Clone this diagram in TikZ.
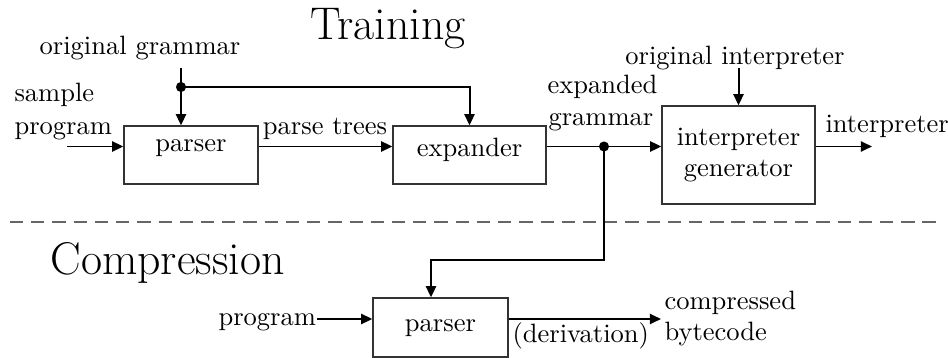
\documentclass[tikz,border=0pt]{standalone}
\usetikzlibrary{arrows.meta}
\begin{document}
\begin{tikzpicture}[x=0.377pt,y=-0.377pt,
  boxnode/.style={draw=black!80,line width=0.5pt,inner sep=0pt,rectangle},
  txt/.style={inner sep=0pt,anchor=base,font=\normalsize},
  txtl/.style={inner sep=0pt,anchor=base west,font=\normalsize},
  title/.style={inner sep=0pt,anchor=base west,font=\LARGE},
  arr/.style={line width=0.75pt,-{Triangle[length=4.2pt,width=3.8pt]}},
  wire/.style={line width=0.75pt},
  junction/.style={circle,fill=black,inner sep=0pt,minimum size=3.8pt},
  sep/.style={black!60,line width=0.5pt,dash pattern=on 5pt off 3pt}]
\useasboundingbox (0,0) rectangle (948,358);
% titles
\node[title] (ttrain) at (310,40) {Training};
\node[title] (tcomp) at (50,274) {Compression};
% boxes
\node[boxnode,minimum width=134*0.377pt,minimum height=58*0.377pt] (parser1) at (191,155) {};
\node[boxnode,minimum width=153*0.377pt,minimum height=58*0.377pt] (expander) at (469.5,155) {};
\node[boxnode,minimum width=153*0.377pt,minimum height=98*0.377pt] (igen) at (738.5,155) {};
\node[boxnode,minimum width=135*0.377pt,minimum height=59*0.377pt] (parser2) at (440.5,327.5) {};
% box texts
\node[txt] (parser1t) at (191,152) {parser};
\node[txt] (expandert) at (469.5,157) {expander};
\node[txt] (igent1) at (738.5,146) {interpreter};
\node[txt] (igent2) at (738.5,177) {generator};
\node[txt] (parser2t) at (440.5,331) {parser};
% labels
\node[txt] (og) at (140,55) {original grammar};
\node[txtl] (sp1) at (14,102) {sample};
\node[txtl] (sp2) at (14,135) {program};
\node[txt] (pt) at (325,135) {parse trees};
\node[txtl] (eg1) at (547,94) {expanded};
\node[txtl] (eg2) at (548,126) {grammar};
\node[txt] (oi) at (735,65) {original interpreter};
\node[txtl] (iout) at (825,132) {interpreter};
\node[txtl] (prog) at (218,325) {program};
\node[txtl] (deriv) at (512,342) {(derivation)};
\node[txtl] (cb1) at (664,309) {compressed};
\node[txtl] (cb2) at (664,340) {bytecode};
% coordinates
\coordinate (spin) at (67,146.5);
\coordinate (ogtop) at (181,68);
\coordinate (oitop) at (738.5,68);
\coordinate (outend) at (872,146.5);
\coordinate (bend) at (431,260);
\coordinate (pin) at (317,319);
\coordinate (cout) at (661,319);
\node[junction] (ogdot) at (181,87) {};
\node[junction] (egdot) at (604,146.5) {};
% separator
\coordinate (sepl) at (10,222);
\coordinate (sepr) at (938,222);
\draw[sep] (sepl) -- (sepr);
% connectors
\draw[arr] (spin) -- (spin -| parser1.west);
\draw[arr] (ogtop) -- (ogtop |- parser1.north);
\draw[arr] (ogdot.center) -| (expander.north);
\draw[arr] (parser1.east |- spin) -- (expander.west |- spin);
\draw[wire] (expander.east |- spin) -- (egdot.center);
\draw[arr] (egdot.center) -- (igen.west |- spin);
\draw[arr] (oitop) -- (igen.north);
\draw[arr] (igen.east |- spin) -- (outend);
\draw[arr] (egdot.center) |- (bend) -- (bend |- parser2.north);
\draw[arr] (pin) -- (pin -| parser2.west);
\draw[arr] (parser2.east |- pin) -- (cout);
\end{tikzpicture}
\end{document}
